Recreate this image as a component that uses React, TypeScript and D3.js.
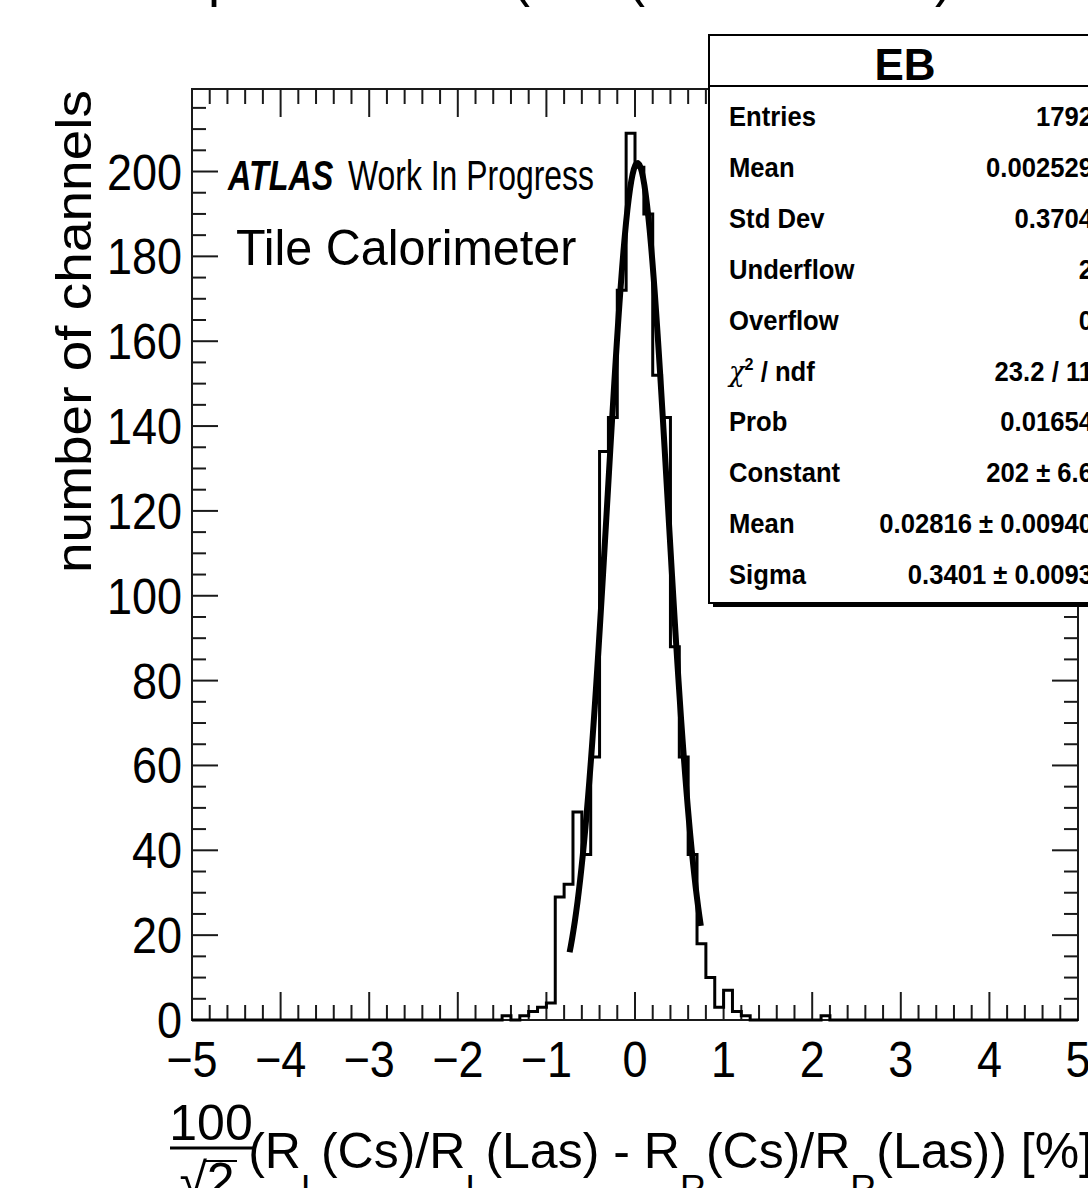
import React from "react";
import * as d3 from "d3";

// histogram: 100 bins of 0.1 from -5 to 5, only filled bins listed
const binLow = [-1.5, -1.4, -1.3, -1.2, -1.1, -1.0, -0.9, -0.8, -0.7, -0.6, -0.5, -0.4, -0.3, -0.2, -0.1,
  0.0, 0.1, 0.2, 0.3, 0.4, 0.5, 0.6, 0.7, 0.8, 0.9, 1.0, 1.1, 1.2, 2.1];
const binCount = [1, 0, 1, 2, 3, 4, 29, 32, 49, 39, 62, 134, 142, 172, 209,
  201, 190, 152, 142, 88, 62, 39, 18, 10, 3, 7, 2, 1, 1];

// gaussian fit shown in the stats box
const fitConstant = 202;
const fitMean = 0.02816;
const fitSigma = 0.3401;
const fitRange = [-0.738, 0.743];

const xDomain = [-5, 5];
const yDomain = [0, 219.45];
const xTickLabels = ["\u22125", "\u22124", "\u22123", "\u22122", "\u22121", "0", "1", "2", "3", "4", "5"];
const yTickLabels = ["0", "20", "40", "60", "80", "100", "120", "140", "160", "180", "200"];

const statLabels = ["Entries", "Mean", "Std Dev", "Underflow", "Overflow", "chi2", "Prob", "Constant", "Mean", "Sigma"];
const statValues = ["1792", "0.002529", "0.3704", "2", "0", "23.2 / 11", "0.01654", "202 \u00b1 6.6", "0.02816 \u00b1 0.00940", "0.3401 \u00b1 0.0093"];

// bottoms of a title line cut off by the top of the picture
const titleBits = [
  { ch: "p", x: 208 },
  { ch: "(", x: 512 },
  { ch: "(", x: 627 },
  { ch: ")", x: 935 },
];

const FONT = "'Liberation Sans', Arial, Helvetica, sans-serif";

function SText({ x, y, sx = 1, children, ...rest }: any) {
  return (
    <text transform={`translate(${x},${y}) scale(${sx},1)`} fontFamily={FONT} {...rest}>
      {children}
    </text>
  );
}

export default function App() {
  const width = 1088;
  const height = 1188;
  const frame = { left: 192, right: 1078, top: 89, bottom: 1020 };

  const xScale = d3.scaleLinear().domain(xDomain).range([frame.left, frame.right]);
  const yScale = d3.scaleLinear().domain(yDomain).range([frame.bottom, frame.top]);

  // full bin array
  const nBins = 100;
  const bins = d3.range(nBins).map((i) => {
    const lo = xDomain[0] + i * 0.1;
    const k = binLow.findIndex((b) => Math.abs(b - lo) < 1e-6);
    return { lo, n: k >= 0 ? binCount[k] : 0 };
  });
  const stepPts: [number, number][] = bins.map((b) => [b.lo, b.n]);
  stepPts.push([xDomain[1], bins[nBins - 1].n]);
  const histLine = d3.line<[number, number]>()
    .x((d) => xScale(d[0]))
    .y((d) => yScale(d[1]))
    .curve(d3.curveStepAfter);

  const fitPts = d3.range(0, 101).map((i) => {
    const v = fitRange[0] + (i / 100) * (fitRange[1] - fitRange[0]);
    const z = (v - fitMean) / fitSigma;
    return [v, fitConstant * Math.exp(-0.5 * z * z)] as [number, number];
  });
  const fitLine = d3.line<[number, number]>()
    .x((d) => xScale(d[0]))
    .y((d) => yScale(d[1]))
    .curve(d3.curveLinear);

  const xMajor = d3.range(-5, 5.001, 1);
  const xMinor = d3.range(0, 51).map((i) => -5 + i * 0.2).filter((v) => Math.abs(v - Math.round(v)) > 1e-6);
  const yMajor = d3.range(0, 201, 20);
  const yMinor = d3.range(0, 220, 5).filter((v) => v % 20 !== 0 && yScale(v) > frame.top);

  const axisColor = "#1a1a1a";

  const box = { x: 709, y: 35, w: 392, h: 568, titleH: 51 };
  const rowY0 = 126;
  const rowStep = 50.9;
  const subDy = 33;

  return (
    <svg width={width} height={height} style={{ position: "absolute", left: 0, top: 0, background: "#fff" }}>
      <rect x={0} y={0} width={width} height={height} fill="#fff" />

      {titleBits.map((t, i) => (
        <SText key={i} x={t.x} y={-5} fontSize={60} sx={0.9}>{t.ch}</SText>
      ))}

      {/* frame */}
      <rect x={frame.left} y={frame.top} width={frame.right - frame.left} height={frame.bottom - frame.top}
        fill="none" stroke={axisColor} strokeWidth={2} />

      {/* x ticks, bottom & top */}
      {xMajor.map((v) => (
        <g key={"xM" + v}>
          <line x1={xScale(v)} x2={xScale(v)} y1={frame.bottom} y2={frame.bottom - 28} stroke={axisColor} strokeWidth={2} />
          <line x1={xScale(v)} x2={xScale(v)} y1={frame.top} y2={frame.top + 28} stroke={axisColor} strokeWidth={2} />
        </g>
      ))}
      {xMinor.map((v) => (
        <g key={"xm" + v}>
          <line x1={xScale(v)} x2={xScale(v)} y1={frame.bottom} y2={frame.bottom - 15} stroke={axisColor} strokeWidth={2} />
          <line x1={xScale(v)} x2={xScale(v)} y1={frame.top} y2={frame.top + 15} stroke={axisColor} strokeWidth={2} />
        </g>
      ))}

      {/* y ticks, left & right */}
      {yMajor.map((v) => (
        <g key={"yM" + v}>
          <line x1={frame.left} x2={frame.left + 26} y1={yScale(v)} y2={yScale(v)} stroke={axisColor} strokeWidth={2} />
          <line x1={frame.right} x2={frame.right - 26} y1={yScale(v)} y2={yScale(v)} stroke={axisColor} strokeWidth={2} />
        </g>
      ))}
      {yMinor.map((v) => (
        <g key={"ym" + v}>
          <line x1={frame.left} x2={frame.left + 14} y1={yScale(v)} y2={yScale(v)} stroke={axisColor} strokeWidth={2} />
          <line x1={frame.right} x2={frame.right - 14} y1={yScale(v)} y2={yScale(v)} stroke={axisColor} strokeWidth={2} />
        </g>
      ))}

      {/* tick labels */}
      {xMajor.map((v, i) => (
        <SText key={"xl" + v} x={xScale(v)} y={1077} sx={0.9} fontSize={50} textAnchor="middle">{xTickLabels[i]}</SText>
      ))}
      {yMajor.map((v, i) => (
        <SText key={"yl" + v} x={182} y={yScale(v) + 18} sx={0.9} fontSize={50} textAnchor="end">{yTickLabels[i]}</SText>
      ))}

      {/* axis titles */}
      <text transform={`translate(91,90) scale(0.9,1) rotate(-90)`} fontFamily={FONT} fontSize={55} textAnchor="end">
        number of channels
      </text>

      <SText x={211} y={1140} fontSize={50} textAnchor="middle">100</SText>
      <line x1={170} x2={253} y1={1148} y2={1148} stroke="#000" strokeWidth={3} />
      <SText x={207} y={1198} fontSize={50} textAnchor="middle">{"\u221a2"}</SText>
      <line x1={205} x2={237} y1={1161} y2={1161} stroke="#000" strokeWidth={2} />

      <SText x={1093} y={1168} fontSize={50} textAnchor="end">
        (R<tspan dy={subDy} fontSize={36}>L</tspan>
        <tspan dy={-subDy}>(Cs)/R</tspan><tspan dy={subDy} fontSize={36}>L</tspan>
        <tspan dy={-subDy}>(Las) - R</tspan><tspan dy={subDy} fontSize={36}>R</tspan>
        <tspan dy={-subDy}>(Cs)/R</tspan><tspan dy={subDy} fontSize={36}>R</tspan>
        <tspan dy={-subDy}>(Las)) [%]</tspan>
      </SText>

      {/* histogram and fit */}
      <path d={histLine(stepPts) || ""} fill="none" stroke="#000" strokeWidth={3} />
      <path d={fitLine(fitPts) || ""} fill="none" stroke="#000" strokeWidth={6} strokeLinejoin="round" />

      {/* labels in the pad */}
      <SText x={228} y={190} sx={0.77} fontSize={42} fontWeight="bold" fontStyle="italic">ATLAS</SText>
      <SText x={348} y={190} sx={0.76} fontSize={42}>Work In Progress</SText>
      <SText x={236} y={265} sx={0.97} fontSize={50}>Tile Calorimeter</SText>

      {/* stats box */}
      <rect x={box.x + 4} y={box.y + 4} width={box.w} height={box.h} fill="#000" />
      <rect x={box.x} y={box.y} width={box.w} height={box.h} fill="#fff" stroke="#000" strokeWidth={2} />
      <line x1={box.x} x2={box.x + box.w} y1={box.y + box.titleH} y2={box.y + box.titleH} stroke="#000" strokeWidth={2} />
      <SText x={box.x + box.w / 2} y={80} fontSize={44} fontWeight="bold" textAnchor="middle">EB</SText>
      {statLabels.map((lab, i) => (
        <g key={"st" + i}>
          {lab === "chi2" ? (
            <SText x={729} y={rowY0 + i * rowStep} sx={0.95} fontSize={27} fontWeight="bold">
              <tspan fontWeight="normal" fontFamily="'DejaVu Serif', serif" fontStyle="italic">{"\u03c7"}</tspan>
              <tspan fontSize={17} dy={-11}>2</tspan>
              <tspan dy={11}>{" / ndf"}</tspan>
            </SText>
          ) : (
            <SText x={729} y={rowY0 + i * rowStep} sx={0.95} fontSize={27} fontWeight="bold">{lab}</SText>
          )}
          <SText x={1093} y={rowY0 + i * rowStep} sx={0.95} fontSize={27} fontWeight="bold" textAnchor="end">{statValues[i]}</SText>
        </g>
      ))}
    </svg>
  );
}
